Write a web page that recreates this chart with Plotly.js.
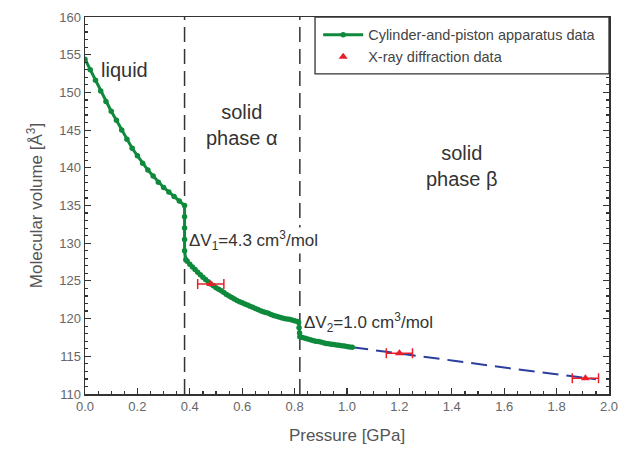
<!DOCTYPE html>
<html>
<head>
<meta charset="utf-8">
<script src="https://cdn.plot.ly/plotly-3.0.1.min.js"></script>
<style>html,body{margin:0;padding:0;background:#fff;}#chart{width:621px;height:459px;}</style>
</head>
<body>
<div id="chart"></div>
<script>
// Cylinder-and-piston apparatus data (green)
const pistonP = [0.00,0.02,0.04,0.06,0.08,0.10,0.12,0.14,0.16,0.18,0.20,0.22,0.24,0.26,0.28,0.30,0.32,0.34,0.36,0.38,
  0.38,0.38,0.38,0.38,0.385,0.39,0.40,0.41,0.42,0.43,0.44,0.45,0.46,0.47,0.48,0.49,0.50,0.51,0.52,0.53,0.54,0.55,0.56,0.57,0.58,0.59,
  0.60,0.61,0.62,0.63,0.64,0.65,0.66,0.67,0.68,0.69,0.70,0.71,0.72,0.73,0.74,0.75,0.76,0.77,0.78,0.79,0.80,0.81,0.815,
  0.817,0.819,0.82,0.83,0.84,0.85,0.86,0.87,0.88,0.89,0.90,0.91,0.92,0.93,0.94,0.95,0.96,0.97,0.98,0.99,1.00,1.01,1.02];
const pistonV = [154.4,153.0,151.6,150.2,148.8,147.5,146.3,145.0,143.8,142.6,141.6,140.6,139.7,138.9,138.1,137.4,136.8,136.2,135.6,135.0,
  133.5,132.0,130.5,129.0,127.8,127.6,127.2,126.85,126.5,126.15,125.8,125.5,125.2,124.9,124.6,124.35,124.1,123.9,123.7,123.45,123.2,123.0,122.8,122.6,122.4,122.25,
  122.1,121.95,121.8,121.65,121.5,121.35,121.2,121.05,120.9,120.8,120.7,120.55,120.4,120.3,120.2,120.1,120.0,119.95,119.9,119.8,119.7,119.6,119.5,
  118.8,118.1,117.6,117.5,117.4,117.3,117.2,117.1,117.0,116.95,116.9,116.8,116.7,116.65,116.6,116.55,116.5,116.45,116.4,116.35,116.3,116.25,116.2];
// Extrapolated fit (blue dashed)
const fitP = [1.02,1.20,1.40,1.60,1.80,1.95];
const fitV = [116.2,115.4,114.45,113.5,112.6,111.95];
// X-ray diffraction data (red)
const xrayP = [0.48,1.20,1.91];
const xrayV = [124.6,115.4,112.1];
const xrayErr = [0.05,0.05,0.05];
// Phase boundaries
const boundaries = [0.38,0.82];

const traces = [
  {x: fitP, y: fitV, mode:'lines', line:{color:'#2b3f9c', width:2, dash:'16px,8px'}, showlegend:false, hoverinfo:'skip'},
  {x: pistonP, y: pistonV, mode:'lines+markers', name:'Cylinder-and-piston apparatus data',
   line:{color:'#0f8a3c', width:3}, marker:{color:'#0f8a3c', size:5.5}},
  {x: xrayP, y: xrayV, mode:'markers', name:'X-ray diffraction data',
   marker:{symbol:'triangle-up', color:'#e8202a', size:8},
   error_x:{type:'data', array: xrayErr, color:'#e8202a', thickness:1.5, width:5}}
];

const shapes = boundaries.map(b => ({type:'line', xref:'x', yref:'paper', x0:b, x1:b, y0:0, y1:1,
  line:{color:'#333', width:1.5, dash:'15px,7px'}, layer:'below'}));
// legend frame
shapes.push({type:'rect', xref:'paper', yref:'paper', x0:0.439, x1:1, y0:0.849, y1:1,
  line:{color:'#333', width:1.3}, fillcolor:'#fff', layer:'above'});

const tf = {family:'Liberation Sans, Arial, sans-serif', color:'#333'};
const annotations = [
  {x:0.15, y:153, text:'liquid', showarrow:false, font:Object.assign({size:20}, tf)},
  {x:0.6, y:145.7, text:'solid<br>phase α', showarrow:false, font:Object.assign({size:20}, tf)},
  {x:1.44, y:140.2, text:'solid<br>phase β', showarrow:false, font:Object.assign({size:20}, tf)},
  {x:0.395, y:130.3, xanchor:'left', text:'ΔV<sub>1</sub>=4.3 cm<sup>3</sup>/mol', showarrow:false, bgcolor:'#fff', borderpad:0, font:Object.assign({size:17}, tf)},
  {x:0.83, y:119.5, xanchor:'left', text:'ΔV<sub>2</sub>=1.0 cm<sup>3</sup>/mol', showarrow:false, font:Object.assign({size:17}, tf)}
];

const layout = {
  width:621, height:459,
  margin:{l:85, r:12, t:17, b:65},
  paper_bgcolor:'#fff', plot_bgcolor:'#fff',
  font:{family:'Liberation Sans, Arial, sans-serif', color:'#555', size:12},
  xaxis:{range:[0,2.0], dtick:0.2, tickformat:'.1f', showgrid:false, zeroline:false,
    showline:true, linecolor:'#333', linewidth:1.5, mirror:true,
    ticks:'inside', ticklen:6, tickcolor:'#333', tickwidth:1.2,
    minor:{dtick:0.05, ticks:'inside', ticklen:3, tickcolor:'#333'},
    tickfont:{size:13, color:'#666'},
    title:{text:'Pressure [GPa]', font:{size:17, color:'#555'}, standoff:16}},
  yaxis:{range:[110,160], dtick:5, showgrid:false, zeroline:false,
    showline:true, linecolor:'#333', linewidth:1.5, mirror:'ticks',
    ticks:'inside', ticklen:6, tickcolor:'#333', tickwidth:1.2,
    minor:{dtick:1, ticks:'inside', ticklen:3, tickcolor:'#333'},
    tickfont:{size:13, color:'#666'},
    title:{text:'Molecular volume [Å<sup>3</sup>]', font:{size:17, color:'#555'}, standoff:12}},
  legend:{x:0.445, xanchor:'left', y:0.995, yanchor:'top', bgcolor:'rgba(0,0,0,0)', borderwidth:0,
    font:{size:14.5, color:'#444'}, itemwidth:40, tracegroupgap:0},
  shapes: shapes,
  annotations: annotations
};

Plotly.newPlot('chart', traces, layout, {displayModeBar:false, staticPlot:true});
</script>
</body>
</html>
